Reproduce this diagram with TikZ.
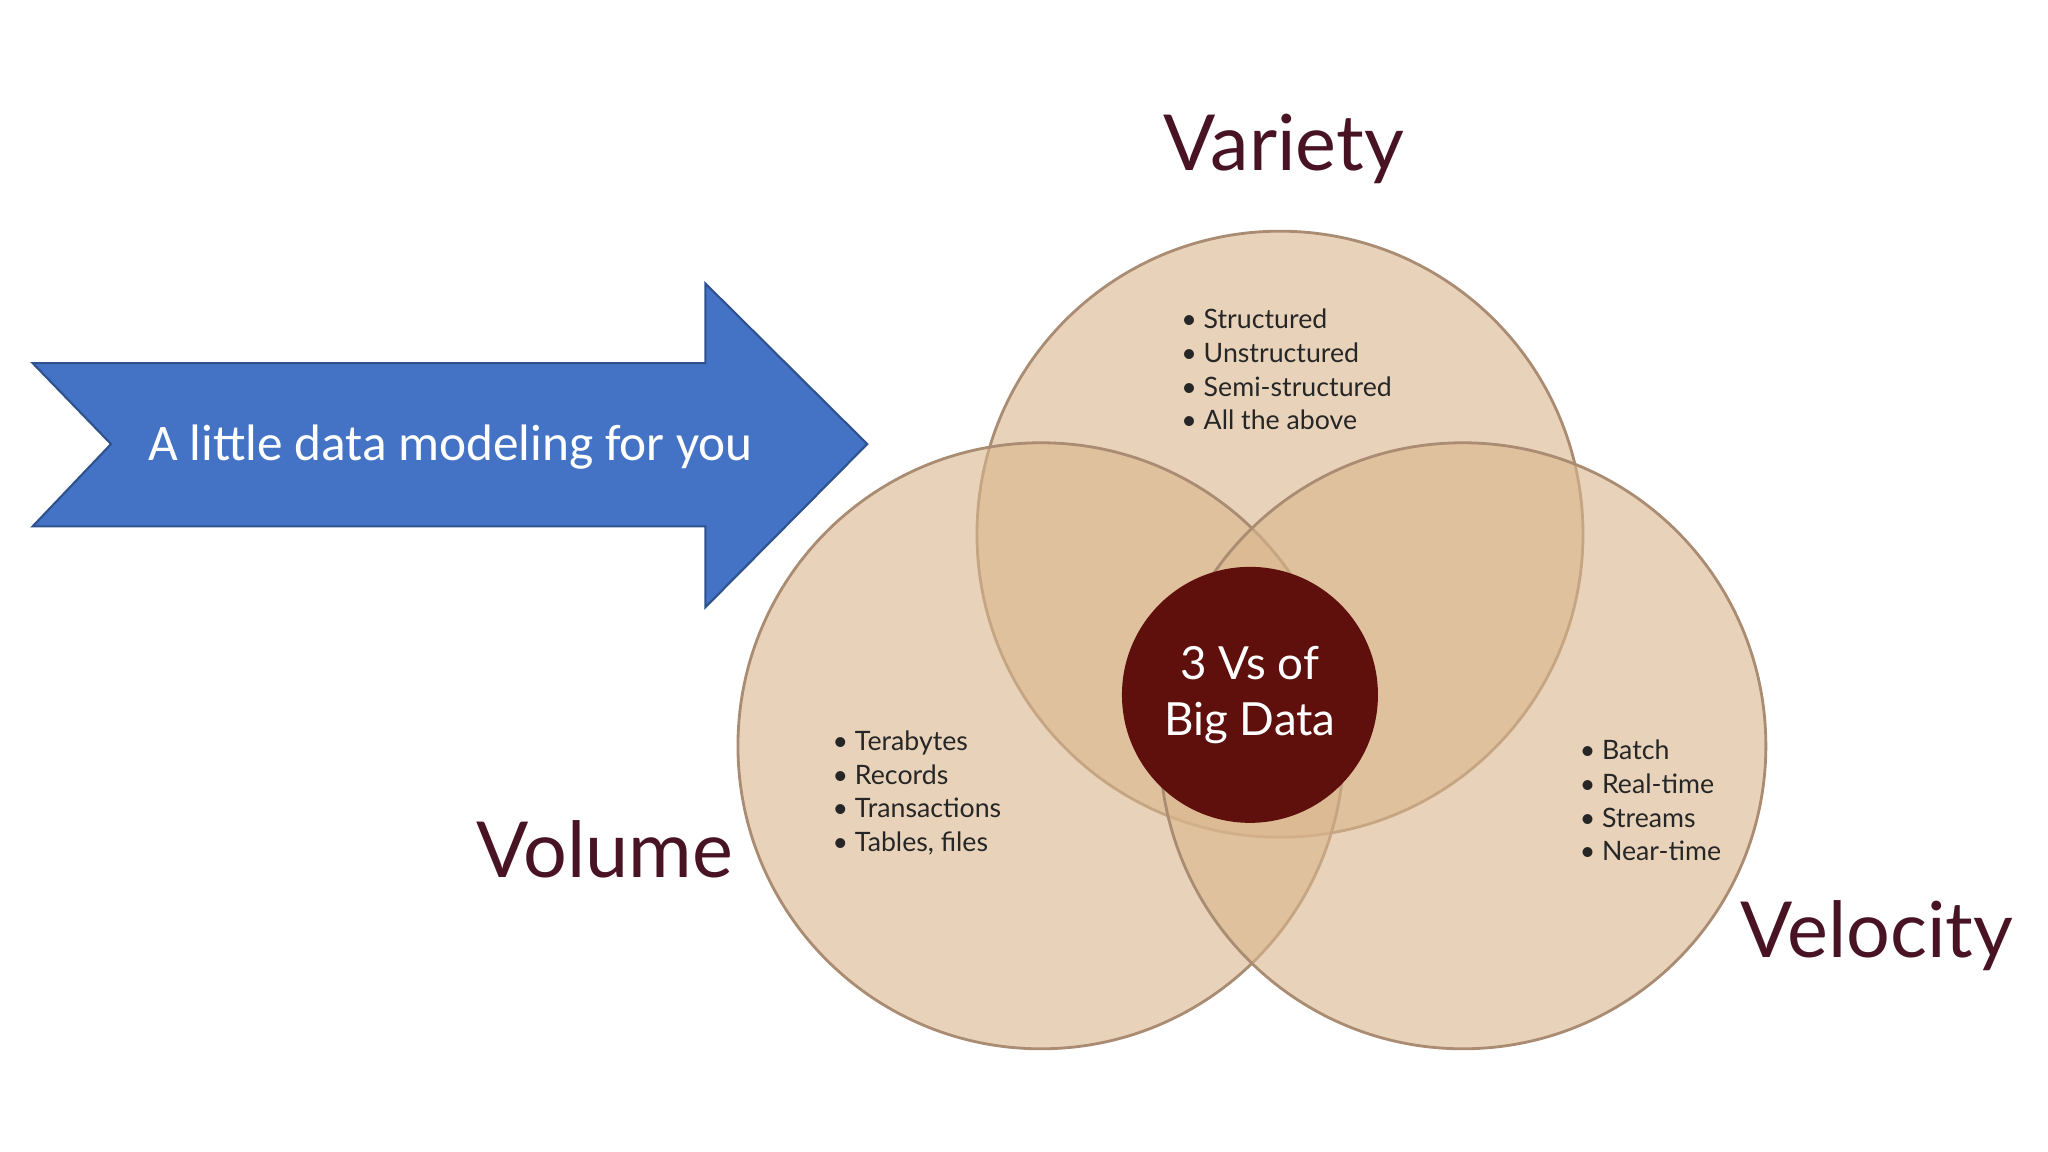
\documentclass[tikz,border=0pt]{standalone}
\usepackage{fontspec}
\setmainfont{Lato}
\newfontfamily\calib{Carlito}
\definecolor{tan}{RGB}{218,182,140}
\definecolor{edgec}{RGB}{170,140,115}
\definecolor{core}{RGB}{95,16,12}
\definecolor{maroon}{RGB}{72,20,36}
\definecolor{arrowblue}{RGB}{68,114,196}
\definecolor{arrowedge}{RGB}{47,82,143}
\tikzset{
  venn/.style={circle,fill=tan,fill opacity=0.6,draw=edgec,line width=0.8pt,minimum size=464*0.01306cm,inner sep=0},
  biglabel/.style={text=maroon,font=\fontsize{22}{26}\selectfont},
  blist/.style={align=left,anchor=north west,font=\fontsize{7.6}{9.6}\selectfont,text=black!85},
}
\begin{document}
\begin{tikzpicture}[x=0.01306cm,y=-0.01306cm]
\useasboundingbox (0,0) rectangle (1568,882);
\fill[white] (0,0) rectangle (1568,882);
\node[venn] (variety) at (980,409) {};
\node[venn] (volume) at (797,571) {};
\node[venn] (velocity) at (1120,571) {};
\node[circle,fill=core,minimum size=196*0.01306cm,inner sep=0,text=white,align=center,font=\fontsize{13}{16}\selectfont] (core) at (957,532) {3 Vs of\\Big Data};
\node[biglabel] (lvariety) at (983,114) {Variety};
\node[biglabel] (lvolume) at (463,650) {Volume};
\node[biglabel] (lvelocity) at (1437,716) {Velocity};
\node[blist] (listvar) at (895,227) {\textbullet\ Structured\\\textbullet\ Unstructured\\\textbullet\ Semi-structured\\\textbullet\ All the above};
\node[blist] (listvol) at (628,550) {\textbullet\ Terabytes\\\textbullet\ Records\\\textbullet\ Transactions\\\textbullet\ Tables, files};
\node[blist] (listvel) at (1200,557) {\textbullet\ Batch\\\textbullet\ Real-time\\\textbullet\ Streams\\\textbullet\ Near-time};
\draw[fill=arrowblue,draw=arrowedge,line width=0.6pt] (25,278) -- (540,278) -- (540,217) -- (664,340) -- (540,465) -- (540,403) -- (25,403) -- (85,340) -- cycle;
\node[text=white,font=\calib\fontsize{14.6}{17}\selectfont] (atext) at (345,342) {A little data modeling for you};
\end{tikzpicture}
\end{document}
